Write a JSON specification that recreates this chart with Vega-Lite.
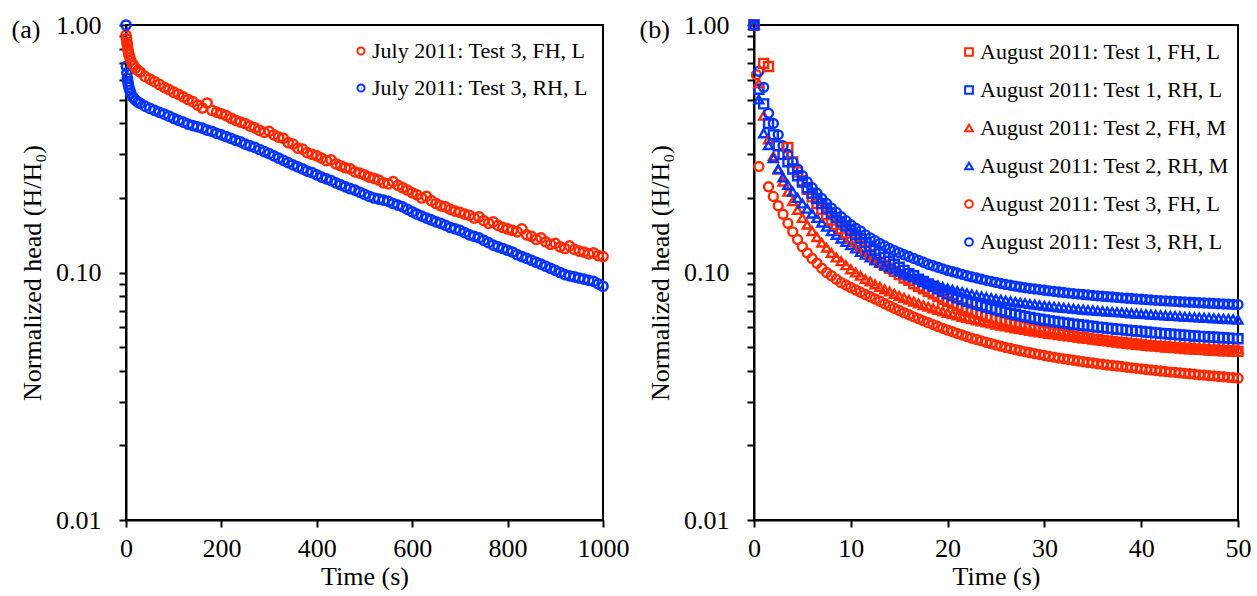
{
  "$schema": "https://vega.github.io/schema/vega-lite/v6.json",
  "background": "white",
  "padding": {"left": 10, "top": 11, "right": 3, "bottom": 0},
  "spacing": 8,
  "resolve": {"scale": {"color": "independent", "shape": "independent"}, "legend": {"color": "independent", "shape": "independent"}},
  "config": {
    "font": "Liberation Serif",
    "view": {"stroke": "black", "strokeWidth": 2},
    "axis": {
      "grid": false, "domainColor": "black", "domainWidth": 2,
      "tickColor": "black", "tickWidth": 2, "tickSize": 7,
      "labelFont": "Liberation Serif", "labelFontSize": 26, "labelColor": "black",
      "titleFont": "Liberation Serif", "titleFontSize": 26, "titleFontWeight": "normal", "titleColor": "black"
    },
    "axisX": {"labelPadding": 8, "titlePadding": 2, "labelFlush": false, "format": "d"},
    "axisY": {"labelPadding": 18, "titlePadding": 10},
    "legend": {
      "labelFont": "Liberation Serif", "labelFontSize": 22, "labelColor": "black",
      "labelLimit": 400, "rowPadding": 16, "labelOffset": 0, "symbolStrokeWidth": 2,
      "padding": 0
    },
    "title": {"font": "Liberation Serif", "fontSize": 26, "fontWeight": "normal", "color": "black", "anchor": "start", "frame": "bounds"}
  },
  "hconcat": [
    {
      "width": 477,
      "height": 495,
      "title": {"text": "(a)", "offset": -31, "dx": -8},
      "data": {"values": [
        {"t":0,"FH":0.91,"RH":1.0},{"t":1,"FH":0.88,"RH":0.68},{"t":2,"FH":0.85,"RH":0.64},{"t":3,"FH":0.83,"RH":0.61},
        {"t":4,"FH":0.8,"RH":0.59},{"t":5,"FH":0.78,"RH":0.575},{"t":6,"FH":0.76,"RH":0.56},{"t":8,"FH":0.74,"RH":0.545},
        {"t":10,"FH":0.72,"RH":0.53},{"t":15,"FH":0.69,"RH":0.51},{"t":20,"FH":0.67,"RH":0.497},{"t":25,"FH":0.655,"RH":0.488},
        {"t":30,"FH":0.645,"RH":0.482},{"t":40,"FH":0.62,"RH":0.47},{"t":50,"FH":0.605,"RH":0.46},{"t":60,"FH":0.59,"RH":0.452},
        {"t":70,"FH":0.575,"RH":0.444},{"t":80,"FH":0.56,"RH":0.436},{"t":90,"FH":0.548,"RH":0.428},{"t":100,"FH":0.535,"RH":0.42},
        {"t":110,"FH":0.525,"RH":0.412},{"t":120,"FH":0.512,"RH":0.405},{"t":130,"FH":0.5,"RH":0.398},{"t":140,"FH":0.49,"RH":0.392},
        {"t":150,"FH":0.475,"RH":0.388},{"t":160,"FH":0.462,"RH":0.383},{"t":170,"FH":0.484,"RH":0.376},{"t":180,"FH":0.452,"RH":0.372},
        {"t":190,"FH":0.445,"RH":0.365},{"t":200,"FH":0.438,"RH":0.36},{"t":210,"FH":0.43,"RH":0.354},{"t":220,"FH":0.42,"RH":0.348},
        {"t":230,"FH":0.412,"RH":0.342},{"t":240,"FH":0.405,"RH":0.337},{"t":250,"FH":0.4,"RH":0.33},{"t":260,"FH":0.39,"RH":0.325},
        {"t":270,"FH":0.384,"RH":0.32},{"t":280,"FH":0.375,"RH":0.314},{"t":290,"FH":0.368,"RH":0.308},{"t":300,"FH":0.372,"RH":0.302},
        {"t":310,"FH":0.36,"RH":0.296},{"t":320,"FH":0.352,"RH":0.29},{"t":330,"FH":0.348,"RH":0.284},{"t":340,"FH":0.335,"RH":0.278},
        {"t":350,"FH":0.33,"RH":0.272},{"t":360,"FH":0.318,"RH":0.267},{"t":370,"FH":0.315,"RH":0.262},{"t":380,"FH":0.305,"RH":0.257},
        {"t":390,"FH":0.3,"RH":0.253},{"t":400,"FH":0.296,"RH":0.248},{"t":410,"FH":0.29,"RH":0.243},{"t":420,"FH":0.283,"RH":0.239},
        {"t":430,"FH":0.285,"RH":0.235},{"t":440,"FH":0.275,"RH":0.23},{"t":450,"FH":0.27,"RH":0.226},{"t":460,"FH":0.265,"RH":0.222},
        {"t":470,"FH":0.262,"RH":0.218},{"t":480,"FH":0.255,"RH":0.215},{"t":490,"FH":0.252,"RH":0.211},{"t":500,"FH":0.248,"RH":0.207},
        {"t":510,"FH":0.243,"RH":0.203},{"t":520,"FH":0.24,"RH":0.2},{"t":530,"FH":0.236,"RH":0.198},{"t":540,"FH":0.23,"RH":0.196},
        {"t":550,"FH":0.228,"RH":0.194},{"t":560,"FH":0.233,"RH":0.19},{"t":570,"FH":0.225,"RH":0.187},{"t":580,"FH":0.22,"RH":0.184},
        {"t":590,"FH":0.215,"RH":0.18},{"t":600,"FH":0.21,"RH":0.176},{"t":610,"FH":0.206,"RH":0.172},{"t":620,"FH":0.2,"RH":0.169},
        {"t":630,"FH":0.203,"RH":0.166},{"t":640,"FH":0.195,"RH":0.163},{"t":650,"FH":0.19,"RH":0.16},{"t":660,"FH":0.186,"RH":0.158},
        {"t":670,"FH":0.184,"RH":0.155},{"t":680,"FH":0.18,"RH":0.152},{"t":690,"FH":0.177,"RH":0.15},{"t":700,"FH":0.175,"RH":0.148},
        {"t":710,"FH":0.172,"RH":0.145},{"t":720,"FH":0.17,"RH":0.142},{"t":730,"FH":0.166,"RH":0.14},{"t":740,"FH":0.168,"RH":0.138},
        {"t":750,"FH":0.162,"RH":0.135},{"t":760,"FH":0.158,"RH":0.132},{"t":770,"FH":0.16,"RH":0.129},{"t":780,"FH":0.155,"RH":0.127},
        {"t":790,"FH":0.152,"RH":0.125},{"t":800,"FH":0.15,"RH":0.123},{"t":810,"FH":0.148,"RH":0.121},{"t":820,"FH":0.146,"RH":0.118},
        {"t":830,"FH":0.15,"RH":0.116},{"t":840,"FH":0.142,"RH":0.114},{"t":850,"FH":0.14,"RH":0.112},{"t":860,"FH":0.136,"RH":0.11},
        {"t":870,"FH":0.138,"RH":0.108},{"t":880,"FH":0.133,"RH":0.106},{"t":890,"FH":0.13,"RH":0.104},{"t":900,"FH":0.131,"RH":0.102},
        {"t":910,"FH":0.127,"RH":0.1},{"t":920,"FH":0.125,"RH":0.098},{"t":930,"FH":0.128,"RH":0.097},{"t":940,"FH":0.124,"RH":0.096},
        {"t":950,"FH":0.122,"RH":0.095},{"t":960,"FH":0.121,"RH":0.094},{"t":970,"FH":0.119,"RH":0.093},{"t":980,"FH":0.12,"RH":0.092},
        {"t":990,"FH":0.117,"RH":0.09},{"t":1000,"FH":0.116,"RH":0.088}
      ]},
      "transform": [{"fold": ["FH", "RH"], "as": ["series", "h"]}, {"filter": "isValid(datum.h)"}],
      "mark": {"type": "point", "filled": false, "strokeWidth": 2.5, "size": 85, "opacity": 1},
      "encoding": {
        "x": {"field": "t", "type": "quantitative", "scale": {"domain": [0, 1000], "nice": false},
          "axis": {"values": [0, 200, 400, 600, 800, 1000], "title": "Time (s)"}},
        "y": {"field": "h", "type": "quantitative", "scale": {"type": "log", "domain": [0.01, 1], "nice": false},
          "axis": {"values": [0.01,0.02,0.03,0.04,0.05,0.06,0.07,0.08,0.09,0.1,0.2,0.3,0.4,0.5,0.6,0.7,0.8,0.9,1],
            "labelExpr": "datum.value == 1 ? '1.00' : (datum.value == 0.1 ? '0.10' : (datum.value == 0.01 ? '0.01' : ''))",
            "title": "Normalized head (H/H₀)"}},
        "color": {"field": "series", "type": "nominal",
          "scale": {"domain": ["FH", "RH"], "range": ["#ff2a00", "#0033ff"]},
          "legend": {"title": null, "orient": "top-right", "offset": 15, "rowPadding": 15, "symbolSize": 50, "symbolType": "circle",
            "labelExpr": "datum.label == 'FH' ? 'July 2011: Test 3, FH, L' : 'July 2011: Test 3, RH, L'"}}
      }
    },
    {
      "width": 484,
      "height": 495,
      "title": {"text": "(b)", "offset": -31, "dx": -8},
      "data": {"values": [
        {"t":0,"a":1,"b":1,"c":1,"d":1,"e":1,"f":1},
        {"t":0.25,"e":0.63},
        {"t":0.5,"b":0.55,"c":0.58,"d":0.5,"e":0.268,"f":0.65},
        {"t":1,"a":0.7,"b":0.48,"c":0.43,"d":0.365,"f":0.56},
        {"t":1.5,"a":0.68,"b":0.4,"c":0.345,"d":0.327,"e":0.222,"f":0.44},
        {"t":2,"b":0.36,"c":0.295,"d":0.29,"e":0.203,"f":0.4},
        {"t":2.5,"b":0.325,"c":0.26,"d":0.262,"e":0.186,"f":0.36},
        {"t":3,"b":0.3,"c":0.233,"d":0.242,"e":0.172,"f":0.325},
        {"t":3.5,"a":0.32,"b":0.28,"c":0.212,"d":0.226,"e":0.158,"f":0.3},
        {"t":4,"a":0.28,"b":0.262,"c":0.194,"d":0.212,"e":0.146,"f":0.28},
        {"t":4.5,"a":0.255,"b":0.246,"c":0.179,"d":0.2,"e":0.136,"f":0.262},
        {"t":5,"a":0.235,"b":0.232,"c":0.166,"d":0.19,"e":0.127,"f":0.246},
        {"t":5.5,"a":0.217,"b":0.22,"c":0.156,"d":0.181,"e":0.12,"f":0.232},
        {"t":6,"a":0.202,"b":0.209,"c":0.147,"d":0.173,"e":0.114,"f":0.22},
        {"t":6.5,"a":0.19,"b":0.199,"c":0.139,"d":0.166,"e":0.109,"f":0.209},
        {"t":7,"a":0.18,"b":0.19,"c":0.132,"d":0.159,"e":0.104,"f":0.199},
        {"t":7.5,"a":0.171,"b":0.182,"c":0.126,"d":0.153,"e":0.1,"f":0.19},
        {"t":8,"a":0.163,"b":0.174,"c":0.12,"d":0.147,"e":0.097,"f":0.182},
        {"t":8.5,"a":0.156,"b":0.167,"c":0.115,"d":0.142,"e":0.094,"f":0.175},
        {"t":9,"a":0.15,"b":0.16,"c":0.111,"d":0.137,"e":0.091,"f":0.168},
        {"t":9.5,"a":0.144,"b":0.154,"c":0.107,"d":0.133,"e":0.089,"f":0.162},
        {"t":10,"a":0.138,"b":0.148,"c":0.103,"d":0.129,"e":0.087,"f":0.156},
        {"t":10.5,"a":0.133,"b":0.142,"c":0.1,"d":0.125,"e":0.085,"f":0.151},
        {"t":11,"a":0.128,"b":0.137,"c":0.097,"d":0.121,"e":0.0832,"f":0.147},
        {"t":11.5,"a":0.123,"b":0.132,"c":0.094,"d":0.118,"e":0.0815,"f":0.142},
        {"t":12,"a":0.118,"b":0.127,"c":0.092,"d":0.115,"e":0.0798,"f":0.138},
        {"t":12.5,"a":0.114,"b":0.123,"c":0.0895,"d":0.112,"e":0.0782,"f":0.1345},
        {"t":13,"a":0.11,"b":0.119,"c":0.0875,"d":0.1095,"e":0.0765,"f":0.131},
        {"t":13.5,"a":0.107,"b":0.115,"c":0.0855,"d":0.107,"e":0.0748,"f":0.128},
        {"t":14,"a":0.104,"b":0.111,"c":0.0838,"d":0.105,"e":0.0732,"f":0.125},
        {"t":14.5,"a":0.101,"b":0.108,"c":0.082,"d":0.103,"e":0.0717,"f":0.1226},
        {"t":15,"a":0.098,"b":0.105,"c":0.0805,"d":0.101,"e":0.0702,"f":0.1203},
        {"t":15.5,"a":0.095,"b":0.102,"c":0.079,"d":0.099,"e":0.0688,"f":0.118},
        {"t":16,"a":0.093,"b":0.099,"c":0.0776,"d":0.097,"e":0.0675,"f":0.116},
        {"t":16.5,"a":0.09,"b":0.097,"c":0.0763,"d":0.0955,"e":0.0662,"f":0.114},
        {"t":17,"a":0.088,"b":0.094,"c":0.075,"d":0.094,"e":0.065,"f":0.112},
        {"t":17.5,"a":0.086,"b":0.092,"c":0.0738,"d":0.0925,"e":0.0638,"f":0.11},
        {"t":18,"a":0.084,"b":0.09,"c":0.0727,"d":0.091,"e":0.0627,"f":0.108},
        {"t":18.5,"a":0.082,"b":0.088,"c":0.0716,"d":0.0897,"e":0.0616,"f":0.1065},
        {"t":19,"a":0.08,"b":0.086,"c":0.0706,"d":0.0885,"e":0.0605,"f":0.105},
        {"t":19.5,"a":0.078,"b":0.084,"c":0.0696,"d":0.0873,"e":0.0595,"f":0.1035},
        {"t":20,"a":0.0765,"b":0.082,"c":0.0687,"d":0.0862,"e":0.0585,"f":0.102},
        {"t":20.5,"a":0.075,"b":0.0805,"c":0.0678,"d":0.0852,"e":0.0576,"f":0.1007},
        {"t":21,"a":0.0735,"b":0.079,"c":0.067,"d":0.0842,"e":0.0567,"f":0.0995},
        {"t":21.5,"a":0.072,"b":0.0778,"c":0.0662,"d":0.0833,"e":0.0559,"f":0.0983},
        {"t":22,"a":0.071,"b":0.0765,"c":0.0655,"d":0.0824,"e":0.0551,"f":0.097},
        {"t":22.5,"a":0.0698,"b":0.0755,"c":0.0648,"d":0.0816,"e":0.0543,"f":0.096},
        {"t":23,"a":0.0688,"b":0.0745,"c":0.0641,"d":0.0808,"e":0.0536,"f":0.095},
        {"t":23.5,"a":0.0676,"b":0.0735,"c":0.0634,"d":0.0801,"e":0.0529,"f":0.094},
        {"t":24,"a":0.0667,"b":0.0725,"c":0.0628,"d":0.0794,"e":0.0522,"f":0.093},
        {"t":24.5,"a":0.0658,"b":0.0716,"c":0.0622,"d":0.0788,"e":0.0516,"f":0.0921},
        {"t":25,"a":0.0648,"b":0.0708,"c":0.0616,"d":0.0782,"e":0.051,"f":0.0912},
        {"t":25.5,"a":0.064,"b":0.07,"c":0.061,"d":0.0776,"e":0.0504,"f":0.0903},
        {"t":26,"a":0.0632,"b":0.0692,"c":0.0605,"d":0.077,"e":0.0498,"f":0.0895},
        {"t":26.5,"a":0.0624,"b":0.0685,"c":0.06,"d":0.0765,"e":0.0493,"f":0.0888},
        {"t":27,"a":0.0617,"b":0.0678,"c":0.0595,"d":0.076,"e":0.0488,"f":0.0881},
        {"t":27.5,"a":0.061,"b":0.0671,"c":0.059,"d":0.0755,"e":0.0483,"f":0.0874},
        {"t":28,"a":0.0603,"b":0.0665,"c":0.0586,"d":0.0751,"e":0.0478,"f":0.0868},
        {"t":28.5,"a":0.0597,"b":0.0659,"c":0.0581,"d":0.0746,"e":0.0474,"f":0.0863},
        {"t":29,"a":0.0591,"b":0.0653,"c":0.0577,"d":0.0742,"e":0.047,"f":0.0858},
        {"t":29.5,"a":0.0585,"b":0.0648,"c":0.0573,"d":0.0738,"e":0.0466,"f":0.0853},
        {"t":30,"a":0.058,"b":0.0643,"c":0.0569,"d":0.0734,"e":0.0462,"f":0.0848},
        {"t":30.5,"a":0.0575,"b":0.0638,"c":0.0565,"d":0.073,"e":0.0458,"f":0.0843},
        {"t":31,"a":0.057,"b":0.0634,"c":0.0562,"d":0.0727,"e":0.0455,"f":0.0839},
        {"t":31.5,"a":0.0566,"b":0.063,"c":0.0558,"d":0.0723,"e":0.0451,"f":0.0834},
        {"t":32,"a":0.0562,"b":0.0626,"c":0.0555,"d":0.072,"e":0.0448,"f":0.083},
        {"t":32.5,"a":0.0557,"b":0.0622,"c":0.0552,"d":0.0717,"e":0.0445,"f":0.0826},
        {"t":33,"a":0.0553,"b":0.0618,"c":0.0549,"d":0.0714,"e":0.0442,"f":0.0822},
        {"t":33.5,"a":0.0549,"b":0.0615,"c":0.0546,"d":0.0711,"e":0.0439,"f":0.0818},
        {"t":34,"a":0.0545,"b":0.0612,"c":0.0543,"d":0.0708,"e":0.0436,"f":0.0815},
        {"t":34.5,"a":0.0542,"b":0.0608,"c":0.054,"d":0.0705,"e":0.0433,"f":0.0812},
        {"t":35,"a":0.0538,"b":0.0605,"c":0.0538,"d":0.0703,"e":0.0431,"f":0.0808},
        {"t":35.5,"a":0.0535,"b":0.0602,"c":0.0535,"d":0.07,"e":0.0428,"f":0.0805},
        {"t":36,"a":0.0532,"b":0.0599,"c":0.0533,"d":0.0698,"e":0.0426,"f":0.0802},
        {"t":36.5,"a":0.0529,"b":0.0596,"c":0.053,"d":0.0695,"e":0.0423,"f":0.0799},
        {"t":37,"a":0.0526,"b":0.0593,"c":0.0528,"d":0.0693,"e":0.0421,"f":0.0796},
        {"t":37.5,"a":0.0523,"b":0.059,"c":0.0526,"d":0.0691,"e":0.0419,"f":0.0793},
        {"t":38,"a":0.052,"b":0.0588,"c":0.0524,"d":0.0689,"e":0.0417,"f":0.079},
        {"t":38.5,"a":0.0518,"b":0.0585,"c":0.0522,"d":0.0686,"e":0.0414,"f":0.0787},
        {"t":39,"a":0.0515,"b":0.0582,"c":0.052,"d":0.0684,"e":0.0412,"f":0.0785},
        {"t":39.5,"a":0.0513,"b":0.058,"c":0.0518,"d":0.0682,"e":0.041,"f":0.0782},
        {"t":40,"a":0.051,"b":0.0578,"c":0.0516,"d":0.068,"e":0.0408,"f":0.078},
        {"t":40.5,"a":0.0508,"b":0.0575,"c":0.0514,"d":0.0678,"e":0.0406,"f":0.0777},
        {"t":41,"a":0.0506,"b":0.0573,"c":0.0513,"d":0.0676,"e":0.0404,"f":0.0775},
        {"t":41.5,"a":0.0504,"b":0.057,"c":0.0511,"d":0.0674,"e":0.0402,"f":0.0772},
        {"t":42,"a":0.0502,"b":0.0568,"c":0.051,"d":0.0672,"e":0.04,"f":0.077},
        {"t":42.5,"a":0.05,"b":0.0566,"c":0.0508,"d":0.067,"e":0.0398,"f":0.0768},
        {"t":43,"a":0.0498,"b":0.0564,"c":0.0507,"d":0.0668,"e":0.0396,"f":0.0766},
        {"t":43.5,"a":0.0497,"b":0.0562,"c":0.0505,"d":0.0667,"e":0.0395,"f":0.0764},
        {"t":44,"a":0.0495,"b":0.056,"c":0.0504,"d":0.0665,"e":0.0393,"f":0.0762},
        {"t":44.5,"a":0.0493,"b":0.0558,"c":0.0503,"d":0.0663,"e":0.0391,"f":0.076},
        {"t":45,"a":0.0492,"b":0.0556,"c":0.0502,"d":0.0661,"e":0.039,"f":0.0758},
        {"t":45.5,"a":0.049,"b":0.0554,"c":0.05,"d":0.066,"e":0.0388,"f":0.0757},
        {"t":46,"a":0.0489,"b":0.0552,"c":0.0499,"d":0.0658,"e":0.0386,"f":0.0755},
        {"t":46.5,"a":0.0488,"b":0.0551,"c":0.0498,"d":0.0656,"e":0.0385,"f":0.0753},
        {"t":47,"a":0.0486,"b":0.0549,"c":0.0497,"d":0.0655,"e":0.0383,"f":0.0751},
        {"t":47.5,"a":0.0485,"b":0.0548,"c":0.0496,"d":0.0653,"e":0.0382,"f":0.075},
        {"t":48,"a":0.0484,"b":0.0546,"c":0.0495,"d":0.0652,"e":0.038,"f":0.0748},
        {"t":48.5,"a":0.0483,"b":0.0545,"c":0.0494,"d":0.065,"e":0.0379,"f":0.0746},
        {"t":49,"a":0.0482,"b":0.0543,"c":0.0493,"d":0.0648,"e":0.0377,"f":0.0745},
        {"t":49.5,"a":0.0481,"b":0.0542,"c":0.0492,"d":0.0647,"e":0.0376,"f":0.0743},
        {"t":50,"a":0.048,"b":0.054,"c":0.0491,"d":0.0645,"e":0.0374,"f":0.0742}
      ]},
      "transform": [{"fold": ["a", "b", "c", "d", "e", "f"], "as": ["series", "h"]}, {"filter": "isValid(datum.h)"}],
      "mark": {"type": "point", "filled": false, "strokeWidth": 2.4, "size": 80, "opacity": 1},
      "encoding": {
        "x": {"field": "t", "type": "quantitative", "scale": {"domain": [0, 50], "nice": false},
          "axis": {"values": [0, 10, 20, 30, 40, 50], "title": "Time (s)"}},
        "y": {"field": "h", "type": "quantitative", "scale": {"type": "log", "domain": [0.01, 1], "nice": false},
          "axis": {"values": [0.01,0.02,0.03,0.04,0.05,0.06,0.07,0.08,0.09,0.1,0.2,0.3,0.4,0.5,0.6,0.7,0.8,0.9,1],
            "labelExpr": "datum.value == 1 ? '1.00' : (datum.value == 0.1 ? '0.10' : (datum.value == 0.01 ? '0.01' : ''))",
            "title": "Normalized head (H/H₀)"}},
        "color": {"field": "series", "type": "nominal",
          "scale": {"domain": ["a", "b", "c", "d", "e", "f"], "range": ["#ff2a00", "#0033ff", "#ff2a00", "#0033ff", "#ff2a00", "#0033ff"]},
          "legend": {"title": null, "orient": "none", "legendX": 204, "legendY": 16, "symbolSize": 60,
            "labelExpr": "datum.label == 'a' ? 'August 2011: Test 1, FH, L' : datum.label == 'b' ? 'August 2011: Test 1, RH, L' : datum.label == 'c' ? 'August 2011: Test 2, FH, M' : datum.label == 'd' ? 'August 2011: Test 2, RH, M' : datum.label == 'e' ? 'August 2011: Test 3, FH, L' : 'August 2011: Test 3, RH, L'"}},
        "shape": {"field": "series", "type": "nominal",
          "scale": {"domain": ["a", "b", "c", "d", "e", "f"], "range": ["square", "square", "triangle-up", "triangle-up", "circle", "circle"]},
          "legend": {"title": null, "orient": "none", "legendX": 204, "legendY": 16, "symbolSize": 60,
            "labelExpr": "datum.label == 'a' ? 'August 2011: Test 1, FH, L' : datum.label == 'b' ? 'August 2011: Test 1, RH, L' : datum.label == 'c' ? 'August 2011: Test 2, FH, M' : datum.label == 'd' ? 'August 2011: Test 2, RH, M' : datum.label == 'e' ? 'August 2011: Test 3, FH, L' : 'August 2011: Test 3, RH, L'"}}
      }
    }
  ]
}
